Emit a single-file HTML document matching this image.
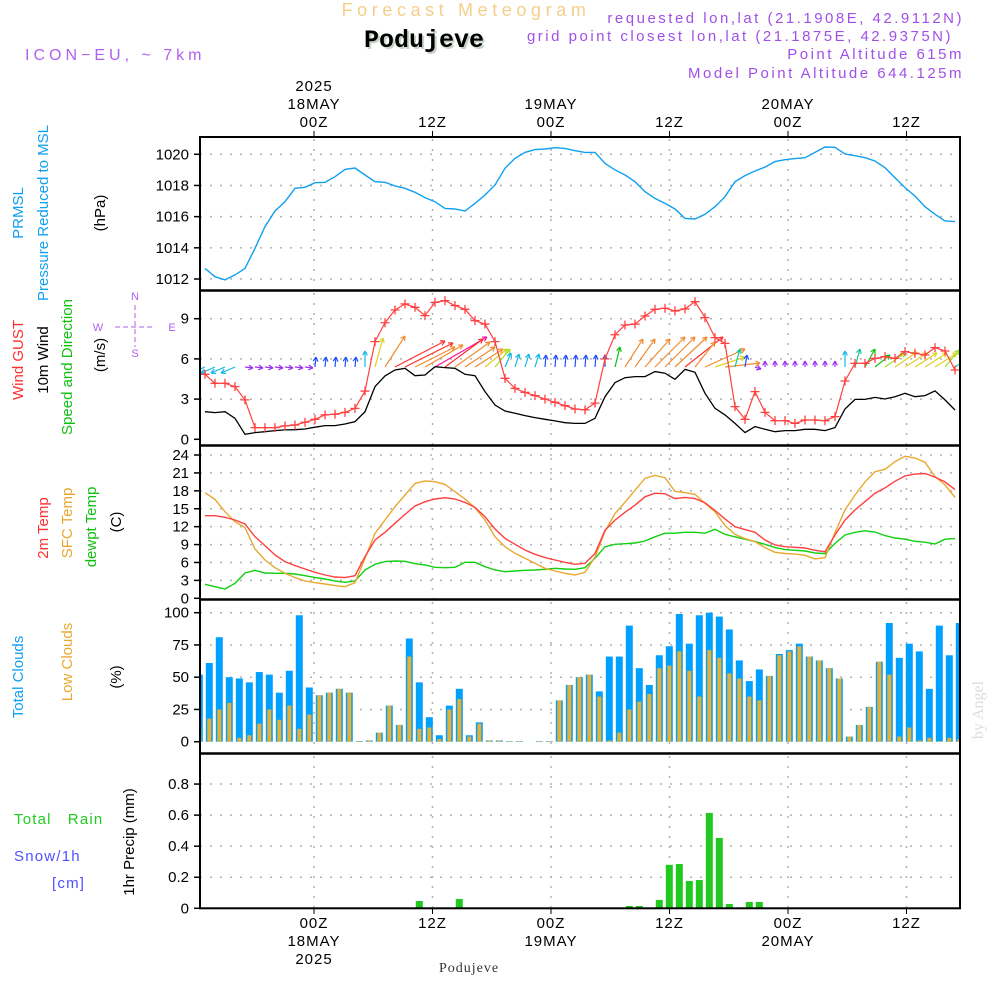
<!DOCTYPE html>
<html><head><meta charset="utf-8"><style>
html,body{margin:0;padding:0;background:#fff;width:1000px;height:1000px;overflow:hidden}
svg{display:block}
text{font-family:"Liberation Sans",sans-serif}
</style></head><body>
<svg id="chart" xmlns="http://www.w3.org/2000/svg" width="1000" height="1000" viewBox="0 0 1000 1000">
<g id="header">
<text x="466" y="16" text-anchor="middle" font-size="18" letter-spacing="4.6" fill="#f5cf8a">Forecast Meteogram</text>
<text x="426" y="49" text-anchor="middle" font-size="25" font-weight="bold" style="font-family:'Liberation Mono',monospace" fill="#c8d4c8">Podujeve</text>
<text x="424" y="47" text-anchor="middle" font-size="25" font-weight="bold" style="font-family:'Liberation Mono',monospace" fill="#000">Podujeve</text>
<text x="25" y="60" font-size="16" letter-spacing="4" fill="#b060f0">ICON−EU, ~ 7km</text>
<text x="964" y="23" text-anchor="end" font-size="15" letter-spacing="2.5" fill="#a050e8">requested lon,lat (21.1908E, 42.9112N)</text>
<text x="953" y="41" text-anchor="end" font-size="15" letter-spacing="2.5" fill="#a050e8">grid point closest lon,lat (21.1875E, 42.9375N)</text>
<text x="964" y="59" text-anchor="end" font-size="15" letter-spacing="2.5" fill="#a050e8">Point Altitude 615m</text>
<text x="964" y="78" text-anchor="end" font-size="15" letter-spacing="2.5" fill="#a050e8">Model Point Altitude 644.125m</text>
</g>
<g id="leftlabels" font-size="15">
<text transform="translate(23,213) rotate(-90)" text-anchor="middle" fill="#10a0f0">PRMSL</text>
<text transform="translate(48,213) rotate(-90)" text-anchor="middle" fill="#10a0f0">Pressure Reduced to MSL</text>
<text transform="translate(105,213) rotate(-90)" text-anchor="middle" fill="#000">(hPa)</text>
<text transform="translate(23,360) rotate(-90)" text-anchor="middle" fill="#ff3030">Wind GUST</text>
<text transform="translate(48,360) rotate(-90)" text-anchor="middle" fill="#000">10m Wind</text>
<text transform="translate(72,367) rotate(-90)" text-anchor="middle" fill="#10c010">Speed and Direction</text>
<text transform="translate(105,355) rotate(-90)" text-anchor="middle" fill="#000">(m/s)</text>
<g fill="#b060f0" font-size="11" text-anchor="middle">
<text x="135" y="300">N</text><text x="135" y="357">S</text><text x="98" y="331">W</text><text x="172" y="331">E</text>
<line x1="115" y1="327" x2="155" y2="327" stroke="#b060f0" stroke-dasharray="5 3"/>
<line x1="135" y1="305" x2="135" y2="347" stroke="#b060f0" stroke-dasharray="5 3"/>
</g>
<text transform="translate(48,528) rotate(-90)" text-anchor="middle" fill="#ff3030">2m Temp</text>
<text transform="translate(72,523) rotate(-90)" text-anchor="middle" fill="#e8a830">SFC Temp</text>
<text transform="translate(96,527) rotate(-90)" text-anchor="middle" fill="#10c010">dewpt Temp</text>
<text transform="translate(121,522) rotate(-90)" text-anchor="middle" fill="#000">(C)</text>
<text transform="translate(23,677) rotate(-90)" text-anchor="middle" fill="#10a0f0">Total Clouds</text>
<text transform="translate(72,662) rotate(-90)" text-anchor="middle" fill="#e8a830">Low Clouds</text>
<text transform="translate(121,677) rotate(-90)" text-anchor="middle" fill="#000">(%)</text>
<text x="14" y="824" fill="#20cc20" letter-spacing="1.2" xml:space="preserve">Total   Rain</text>
<text x="14" y="861" fill="#5050ff" letter-spacing="1.2">Snow/1h</text>
<text x="52" y="888" fill="#5050ff" letter-spacing="1.2">[cm]</text>
<text transform="translate(134,842) rotate(-90)" text-anchor="middle" fill="#000">1hr Precip (mm)</text>
</g>
<text transform="translate(983,710) rotate(-90)" text-anchor="middle" font-size="16" style="font-family:'Liberation Serif',serif" fill="#d8e0d8">by Angel</text>
<text x="469" y="972" text-anchor="middle" font-size="14" style="font-family:'Liberation Serif',serif" letter-spacing="1" fill="#333">Podujeve</text>
<g id="plot"></g>
</svg>
<script>
// ---- data ----
const timeTickHours = [0, 12, 24, 36, 48, 60];
const timeTickLabels = ["00Z", "12Z", "00Z", "12Z", "00Z", "12Z"];
const dayLabels = {0: ["18MAY", "2025"], 24: ["19MAY"], 48: ["20MAY"]};
const pressureTicks = [1012, 1014, 1016, 1018, 1020];
const windTicks = [0, 3, 6, 9];
const tempTicks = [0, 3, 6, 9, 12, 15, 18, 21, 24];
const cloudTicks = [0, 25, 50, 75, 100];
const precipTicks = [0, 0.2, 0.4, 0.6, 0.8];
const precipTickLabels = ["0", "0.2", "0.4", "0.6", "0.8"];

const pressure = [1012.68,1012.15,1011.94,1012.26,1012.68,1013.97,1015.36,1016.36,1016.96,1017.82,1017.88,1018.18,1018.2,1018.56,1019.03,1019.12,1018.67,1018.24,1018.2,1017.97,1017.82,1017.56,1017.22,1016.96,1016.53,1016.49,1016.36,1016.85,1017.39,1018.03,1019.1,1019.74,1020.12,1020.3,1020.34,1020.42,1020.38,1020.23,1020.12,1020.12,1019.42,1019.0,1018.67,1018.24,1017.6,1017.17,1016.85,1016.49,1015.89,1015.85,1016.15,1016.64,1017.28,1018.24,1018.63,1018.93,1019.18,1019.53,1019.65,1019.72,1019.78,1020.12,1020.47,1020.45,1020.02,1019.91,1019.78,1019.57,1019.14,1018.5,1017.86,1017.32,1016.64,1016.15,1015.72,1015.68];
const gust = [4.85,4.18,4.18,3.93,2.94,0.87,0.87,0.87,1.0,1.07,1.27,1.49,1.82,1.87,2.01,2.31,3.6,7.29,8.7,9.65,10.1,9.85,9.23,10.22,10.35,9.98,9.7,8.86,8.6,7.29,4.55,3.8,3.5,3.26,3.0,2.76,2.51,2.26,2.2,2.7,6.0,7.8,8.53,8.6,9.2,9.7,9.78,9.58,9.73,10.27,9.08,7.59,7.16,2.44,1.49,3.56,2.01,1.39,1.39,1.19,1.44,1.44,1.39,1.69,4.35,5.67,5.67,6.04,6.17,6.04,6.54,6.42,6.29,6.84,6.59,5.17];
const wind10 = [2.06,1.99,2.06,1.57,0.37,0.5,0.57,0.65,0.7,0.72,0.77,0.9,1.02,1.02,1.14,1.32,2.06,3.93,4.73,5.17,5.3,4.75,4.8,5.42,5.35,5.3,4.85,4.75,3.56,2.56,2.11,1.94,1.77,1.62,1.49,1.37,1.24,1.19,1.19,1.57,3.18,4.23,4.6,4.68,4.68,5.05,4.93,4.48,5.22,5.0,3.43,2.31,1.82,1.19,0.5,0.95,0.75,0.57,0.65,0.65,0.75,0.75,0.65,0.87,2.26,2.98,2.98,3.13,3.01,3.18,3.43,3.18,3.26,3.61,2.94,2.19];
const windU = [-3.5,-3.5,-3.5,-3.5,2,2,2,2,2,2,2,0.25,0.25,0.25,0.25,0.25,0,2,5,12.5,12,10,9.5,13,9.5,8.75,7.5,7,5.5,3.75,1.5,1,1,1,0.25,0.25,0.25,0.25,0.25,0.25,0,1.25,4.5,5,6.25,7.5,7.5,8,9.5,5,10,7.5,8.75,1.25,0.5,1.5,0,0,0,0,0,0,0,0,0,1.25,2.5,3.75,5,5.5,5.5,5.5,5.5,5.5,3.5,3.75];
const windV = [-1.5,-1.5,-1.5,-1.5,-0.25,-0.25,-0.25,-0.25,-0.25,-0.25,-0.25,2.5,2.5,2.5,2.5,2.5,4,7.25,7.75,6.5,6,5,5.5,7.5,7,6.25,5,4.5,4.5,4.5,3.5,3.25,3.25,3.25,3,3,3,3,3,3,3,5,7,7,7,7.5,7.5,7.5,7.5,6.25,4.5,2.5,1,4.5,3,-0.5,1.5,1.5,1.5,1.5,1.5,1.5,1.5,1.5,4,4.5,4.5,3,3.5,3.75,3.5,3.5,3.5,3.5,4.25,2.5];
const temp2m = [13.84,13.84,13.56,13.11,12.44,10.32,8.82,7.25,6.14,5.47,4.91,4.35,3.91,3.57,3.46,3.79,6.98,9.77,11.05,12.56,14.06,15.46,16.18,16.63,16.85,16.63,16.07,15.23,13.67,11.61,10.04,9.04,8.09,7.37,6.81,6.42,6.03,5.69,5.86,7.5,11.4,13.1,14.4,15.6,17.0,17.6,17.5,16.7,16.9,16.7,16.0,14.7,13.3,12.0,11.5,11.05,9.77,8.93,8.65,8.54,8.43,8.04,7.81,10.6,13.1,14.8,16.2,17.6,18.5,19.6,20.5,20.8,20.9,20.3,19.5,18.2];
const tempSfc = [17.69,16.57,14.51,12.83,11.83,8.26,6.42,5.13,4.19,3.46,2.9,2.62,2.4,2.12,1.95,2.62,6.7,10.88,13.11,15.35,17.3,19.25,19.64,19.53,19.08,17.86,16.63,15.18,13.11,10.32,8.65,7.53,6.7,5.86,5.02,4.58,4.19,3.91,4.35,6.9,11.2,14.2,16.1,18.1,20.1,20.6,20.2,17.9,17.7,17.4,15.9,14.5,12.2,10.7,10.0,9.5,8.5,7.7,7.5,7.4,7.2,6.6,6.8,11.0,14.8,17.3,19.5,21.2,21.6,22.9,23.8,23.5,22.8,20.4,19.0,16.9];
const dewpt = [2.34,1.95,1.56,2.51,4.24,4.69,4.24,4.19,4.19,4.07,3.79,3.46,3.24,2.9,2.68,2.9,4.74,5.69,6.14,6.25,6.19,5.8,5.58,5.19,5.13,5.19,6.03,6.03,5.3,4.74,4.46,4.58,4.69,4.74,4.86,5.02,4.91,4.86,5.13,6.7,8.65,9.04,9.15,9.26,9.6,10.3,10.9,10.9,11.05,11.05,10.9,11.55,10.7,10.3,9.9,9.5,9.04,8.5,8.15,8.04,7.92,7.6,7.48,9.2,10.6,11.05,11.3,11.1,10.5,10.1,9.9,9.54,9.4,9.1,9.9,10.0];
const totalClouds = [52,61,81,50,49,46,54,52,38,55,98,42,36,38,41,38,0.5,1,7,28,13,80,46,19,5,28,41,5,15,1,1,0.5,0.5,0,0.5,0.5,32,44,50,52,39,66,66,90,57,44,67,74,99,76,98,100,97,87,63,47,56,51,68,71,76,66,63,57,49,4,13,27,62,92,65,76,70,41,90,67,92];
const lowClouds = [10,18,25,30,3,5,14,25,17,28,10,21,36,38,41,38,0.5,1,7,28,13,66,10,11,2,25,33,4,14,1,1,0.5,0.5,0,0.5,0.5,32,44,50,52,35,1,7,25,31,37,57,59,70,55,35,71,65,53,49,35,32,51,67,70,74,66,63,57,49,4,13,27,62,52,4,11,1,3,0.5,3,2];
const precip = [0,0,0,0,0,0,0,0,0,0,0,0,0,0,0,0,0,0,0,0,0,0,0.047,0,0,0,0.06,0,0,0,0,0,0,0,0,0,0,0,0,0,0,0,0,0.015,0.015,0,0.054,0.28,0.285,0.176,0.182,0.614,0.453,0.028,0,0.041,0.041,0,0,0,0,0,0,0,0,0,0,0,0,0,0,0,0,0,0,0,0];

// ---- axes ----
const X0 = 200, X1 = 960;
const xLine = i => 205 + 10 * i;
const xBar = i => 199.3 + 10 * i;
const xTime = h => 314 + h * 9.875;
const yP = v => 279 - (v - 1012) * 15.59;
const yW = v => 439.3 - v * 13.4;
const yT = v => 598.3 - v * 5.97;
const yC = v => 741.7 - v * 1.29;
const yR = v => 908.3 - v * 155.3;
const panels = [
  {name:"pressure-panel", top:137, bot:290, ticks:pressureTicks, labels:pressureTicks.map(String), y:yP},
  {name:"wind-panel", top:291, bot:445, ticks:windTicks, labels:windTicks.map(String), y:yW},
  {name:"temperature-panel", top:446, bot:599, ticks:tempTicks, labels:tempTicks.map(String), y:yT},
  {name:"clouds-panel", top:600, bot:753, ticks:cloudTicks, labels:cloudTicks.map(String), y:yC},
  {name:"precip-panel", top:754, bot:908.3, ticks:precipTicks, labels:precipTickLabels, y:yR}
];

const NS = "http://www.w3.org/2000/svg";
const plot = document.getElementById("plot");
function mk(tag, attrs, parent) {
  const e = document.createElementNS(NS, tag);
  for (const k in attrs) e.setAttribute(k, attrs[k]);
  (parent || plot).appendChild(e);
  return e;
}
const defs = mk("defs", {});
panels.forEach((p, k) => {
  const cp = mk("clipPath", {id: "clip" + k}, defs);
  mk("rect", {x: X0, y: p.top, width: X1 - X0, height: p.bot - p.top}, cp);
});

panels.forEach((p, k) => {
  const g = mk("g", {});
  
  
  p.ticks.forEach((t, j) => {
    const y = p.y(t);
    if (j > 0 || k === 0) mk("line", {x1: X0, x2: X1, y1: y, y2: y, stroke: "#b0b0b0", "stroke-width": 1.5, "stroke-dasharray": "2 8"}, g);
    mk("line", {x1: X0 - 6, x2: X0, y1: y, y2: y, stroke: "#000", "stroke-width": 1.5}, g);
    const tl = mk("text", {x: 189, y: y + 5, "text-anchor": "end", "font-size": 15, fill: "#000"}, g);
    
    
    tl.textContent = p.labels[j];
  });
  timeTickHours.forEach(h => {
    const x = xTime(h);
    mk("line", {x1: x, x2: x, y1: p.top + 2, y2: p.bot, stroke: "#b0b0b0", "stroke-width": 1.5, "stroke-dasharray": "2 8"}, g);
  });
});

function polyline(vals, yf, color, k, name, w) {
  const pts = vals.map((v, i) => xLine(i) + "," + yf(v).toFixed(1)).join(" ");
  const pl = mk("polyline", {points: pts, fill: "none", stroke: color, "stroke-width": w || 1.3, "clip-path": "url(#clip" + k + ")"});
  
  
  return pl;
}
polyline(pressure, yP, "#10a0f0", 0, "pressure-line", 1.4);

function windColor(s) {
  if (s < 2.5) return "#9a30f0";
  if (s < 3.3) return "#2050ff";
  if (s < 4.2) return "#10b8e8";
  if (s < 4.8) return "#10c8a0";
  if (s < 5.5) return "#10c010";
  if (s < 6.5) return "#a0e020";
  if (s < 8) return "#e0d020";
  if (s < 11.5) return "#f08c30";
  if (s < 15) return "#ff3030";
  return "#ff10a0";
}
const arrowG = mk("g", {"clip-path": "url(#clip1)"});


windU.forEach((u, i) => {
  const v = windV[i];
  const s = Math.hypot(u, v);
  const x0 = xLine(i), y0 = 367;
  const x1 = x0 + u * 4, y1 = y0 - v * 4;
  const c = windColor(s);
  const a = mk("g", {stroke: c, "stroke-width": 1.2, fill: "none"}, arrowG);
  
  
  mk("line", {x1: x0, y1: y0, x2: x1, y2: y1}, a);
  const ang = Math.atan2(y1 - y0, x1 - x0);
  const hl = 5;
  [0.5, -0.5].forEach(d => {
    mk("line", {x1: x1, y1: y1, x2: x1 - hl * Math.cos(ang + d), y2: y1 - hl * Math.sin(ang + d)}, a);
  });
});
polyline(wind10, yW, "#000", 1, "wind10-line", 1.3);
polyline(gust, yW, "#ff4040", 1, "gust-line", 1.2);
const gm = mk("g", {stroke: "#ff4040", "stroke-width": 1.3, "clip-path": "url(#clip1)"});


gust.forEach((v, i) => {
  const x = xLine(i), y = yW(v);
  const m = mk("path", {d: `M${x-4.5},${y}H${x+4.5}M${x},${y-4.5}V${y+4.5}`}, gm);
  
  
});

polyline(dewpt, yT, "#10d010", 2, "dewpoint-line", 1.4);
polyline(tempSfc, yT, "#e8a830", 2, "sfc-temp-line", 1.4);
polyline(temp2m, yT, "#ff4040", 2, "temp2m-line", 1.4);

const cg = mk("g", {"clip-path": "url(#clip3)"});


totalClouds.forEach((v, i) => {
  const x = xBar(i);
  const b = mk("rect", {x: x - 3.5, y: yC(v), width: 7, height: Math.max(0, yC(0) - yC(v)), fill: "#00a0ff"}, cg);
  
  
  const lv = lowClouds[i];
  const lb = mk("rect", {x: x - 2, y: yC(lv), width: 4, height: Math.max(0, yC(0) - yC(lv)), fill: "#e8b030"}, cg);
  
  
});

const pg = mk("g", {"clip-path": "url(#clip4)"});


precip.forEach((v, i) => {
  if (v <= 0) return;
  const x = xBar(i);
  const b = mk("rect", {x: x - 3.5, y: yR(v), width: 7, height: yR(0) - yR(v), fill: "#20c820"}, pg);
  
  
});
mk("line", {x1: X0, x2: X1, y1: 908.3, y2: 908.3, stroke: "#000", "stroke-width": 1.5, "stroke-dasharray": "6 2"});

const fr = mk("g", {fill: "none", stroke: "#000"});


mk("rect", {x: X0, y: 137, width: X1 - X0, height: 908.3 - 137, "stroke-width": 2}, fr);
[290.5, 445.5, 599.5, 753.5].forEach(y => mk("line", {x1: X0, x2: X1, y1: y, y2: y, "stroke-width": 2.5}, fr));

const tg = mk("g", {"font-size": 15, fill: "#000", "text-anchor": "middle", "letter-spacing": "1"});


timeTickHours.forEach((h, j) => {
  const x = xTime(h);
  mk("line", {x1: x, x2: x, y1: 131, y2: 137, stroke: "#000"}, tg);
  mk("line", {x1: x, x2: x, y1: 908, y2: 914, stroke: "#000"}, tg);
  const t = mk("text", {x: x, y: 127}, tg);
  
  
  t.textContent = timeTickLabels[j];
  const b = mk("text", {x: x, y: 928}, tg);
  
  
  b.textContent = timeTickLabels[j];
  const d = dayLabels[h];
  if (d) {
    d.forEach((s, r) => {
      const tt = mk("text", {x: x, y: 109 - 18 * r}, tg);
      
      
      tt.textContent = s;
      const bb = mk("text", {x: x, y: 946 + 18 * r}, tg);
      
      
      bb.textContent = s;
    });
  }
});
</script>
</body></html>
